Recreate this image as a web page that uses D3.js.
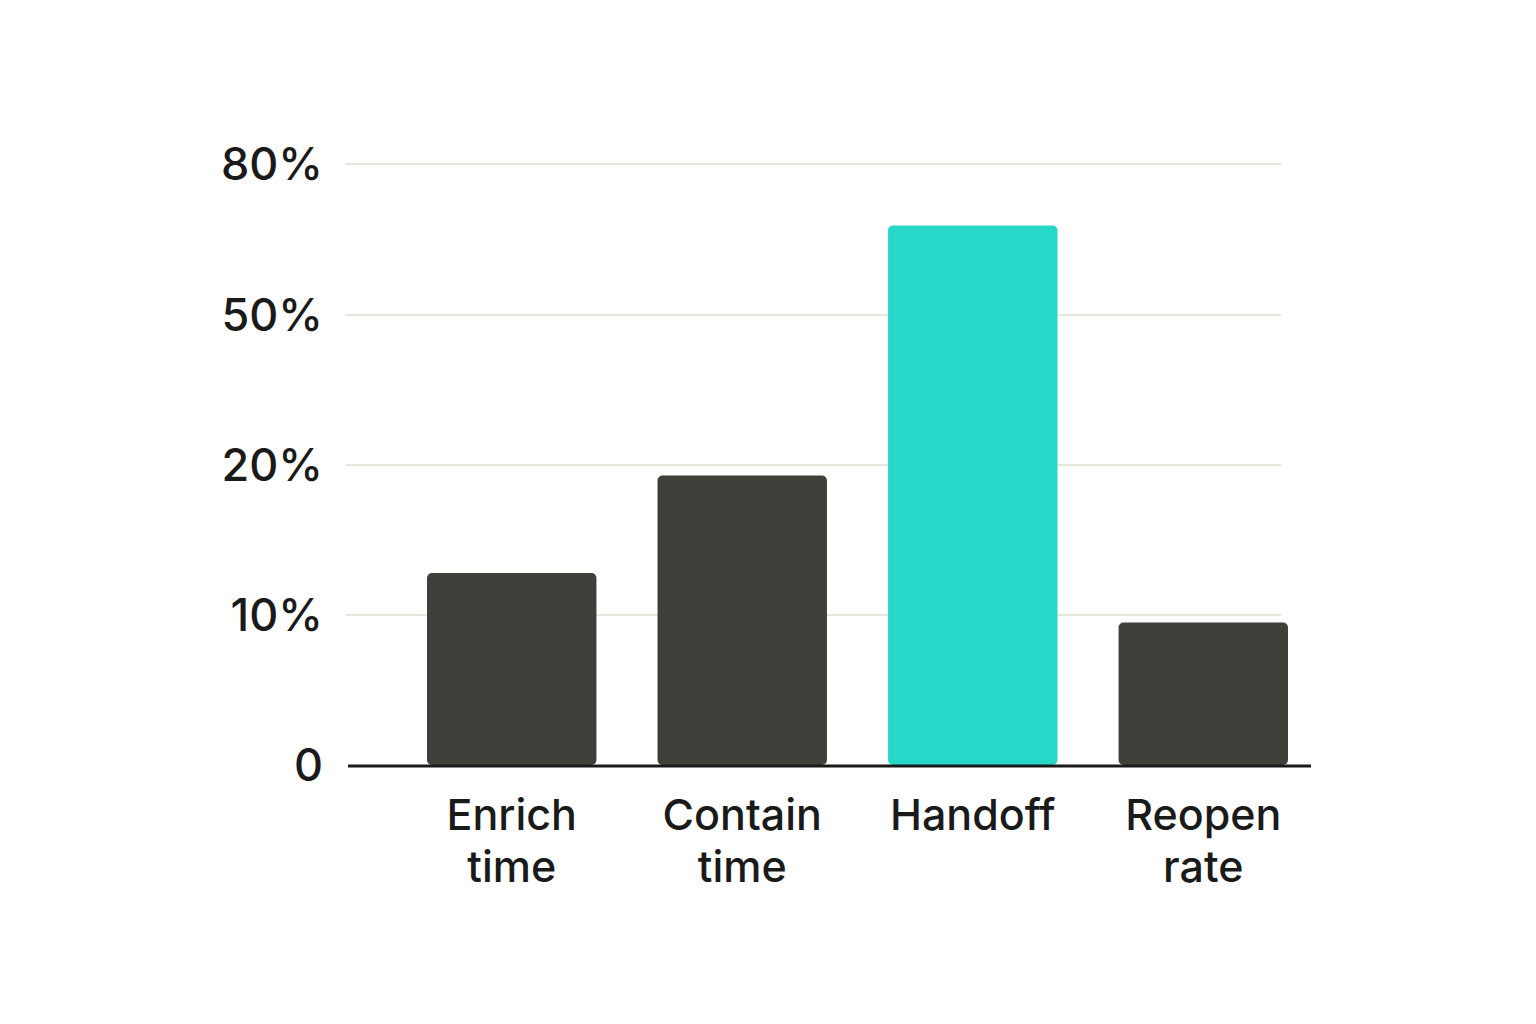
<!DOCTYPE html>
<html><head><meta charset="utf-8">
<script src="https://cdn.jsdelivr.net/npm/d3@7"></script>
<style>body{margin:0;background:#fff}</style>
</head><body>
<script>
// values (percent)
var categories = [["Enrich","time"],["Contain","time"],["Handoff"],["Reopen","rate"]];
var values = [12.8, 19.3, 67.8, 9.5];
var tickValues = [0, 10, 20, 50, 80];
var tickLabels = ["0", "10%", "20%", "50%", "80%"];
var highlight = 2;

var svg = d3.select("body").append("svg").attr("width", 1536).attr("height", 1024);

// uneven axis: every tick is the same distance apart
var y = d3.scaleLinear().domain(tickValues).range([765, 615, 465, 315, 164]);
var x = d3.scaleBand().domain(d3.range(categories.length)).range([427, 1288]).paddingInner(0.265).paddingOuter(0);

svg.selectAll("line.grid").data(tickValues.slice(1)).enter().append("line")
  .attr("x1", 345).attr("x2", 1281)
  .attr("y1", d => y(d)).attr("y2", d => y(d))
  .attr("stroke", "#cfcfbd").attr("stroke-width", 1.2);

svg.selectAll("text.tick").data(tickValues).enter().append("text")
  .attr("x", 323).attr("y", d => y(d) + 16)
  .attr("text-anchor", "end")
  .style("font-family", "Inter, 'Noto Sans', sans-serif").style("font-size", "45px").style("font-weight", 500).attr("fill", "#1a1a1a")
  .text((d, i) => tickLabels[i]);

svg.selectAll("rect.bar").data(values).enter().append("rect")
  .attr("x", (d, i) => x(i)).attr("width", x.bandwidth())
  .attr("y", d => y(d)).attr("height", d => y(0) - y(d))
  .attr("rx", 5)
  .attr("fill", (d, i) => i === highlight ? "#27d8c9" : "#413f39");

svg.append("line").attr("x1", 348).attr("x2", 1311).attr("y1", 766).attr("y2", 766)
  .attr("stroke", "#1a1a1a").attr("stroke-width", 3);

var lbl = svg.selectAll("text.cat").data(categories).enter().append("text")
  .attr("text-anchor", "middle")
  .style("font-family", "Inter, 'Noto Sans', sans-serif").style("font-size", "43px").style("font-weight", 500).attr("fill", "#1a1a1a");
lbl.selectAll("tspan").data((d, i) => d.map(t => ({t: t, i: i}))).enter().append("tspan")
  .attr("x", d => x(d.i) + x.bandwidth() / 2)
  .attr("y", (d, j) => 830 + j * 52)
  .text(d => d.t);
</script>
</body></html>
